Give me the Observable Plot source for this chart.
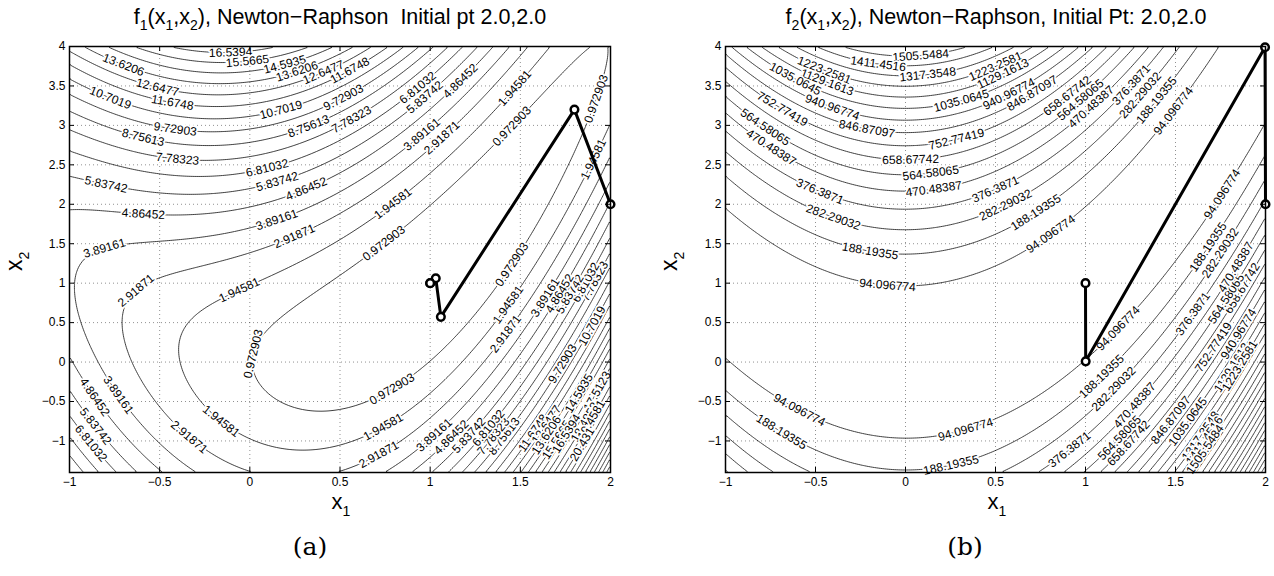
<!DOCTYPE html>
<html>
<head>
<meta charset="utf-8">
<script src="https://cdn.jsdelivr.net/npm/d3@7"></script>
<script src="https://cdn.jsdelivr.net/npm/@observablehq/plot@0.6"></script>
<style>
  body { margin: 0; background: white; }
  #wrap { position: relative; width: 1274px; height: 576px; overflow: hidden; background: white; font-family: "Liberation Sans", Arial, sans-serif; color: black; }
  .panel { position: absolute; top: 0; }
  .ttl { position: absolute; top: 7px; font-size: 21.5px; line-height: 1; white-space: pre; transform: translateX(-50%); }
  .sb { font-size: 14px; position: relative; top: 6px; }
  .xl { position: absolute; top: 493px; font-size: 22px; line-height: 0.8; transform: translateX(-50%); white-space: pre; }
  .xl .sb { font-size: 14px; top: 7px; }
  .yl { position: absolute; font-size: 23px; line-height: 1; white-space: pre; transform-origin: 0 0; }
  .yl .sb { font-size: 14px; top: 7px; }
  .cap { position: absolute; top: 532px; font-family: "DejaVu Serif", serif; font-size: 25px; line-height: 1.2; transform: translateX(-50%); }
</style>
</head>
<body>
<div id="wrap">
  <div id="pa" class="panel" style="left:0px"></div>
  <div id="pb" class="panel" style="left:637px"></div>
  <div class="ttl" style="left:340px">f<span class="sb">1</span>(x<span class="sb">1</span>,x<span class="sb">2</span>), Newton−Raphson  Initial pt 2.0,2.0</div>
  <div class="ttl" style="left:996px">f<span class="sb">2</span>(x<span class="sb">1</span>,x<span class="sb">2</span>), Newton−Raphson, Initial Pt: 2.0,2.0</div>
  <div class="xl" style="left:341px">x<span class="sb">1</span></div>
  <div class="xl" style="left:997px">x<span class="sb">1</span></div>
  <div class="yl" style="left:3px;top:271px;transform:rotate(-90deg)">x<span class="sb">2</span></div>
  <div class="yl" style="left:658px;top:271px;transform:rotate(-90deg)">x<span class="sb">2</span></div>
  <div class="cap" style="left:310px">(a)</div>
  <div class="cap" style="left:965px">(b)</div>
</div>
<script>
// ---------- data ----------
const xTicks = [-1, -0.5, 0, 0.5, 1, 1.5, 2];
const yTicks = [-1, -0.5, 0, 0.5, 1, 1.5, 2, 2.5, 3, 3.5, 4];
const xDomain = [-1, 2];
const yDomain = [-1.4, 4];

const levelsA = [0.972903, 1.94581, 2.91871, 3.89161, 4.86452, 5.83742, 6.81032, 7.78323, 8.75613, 9.72903,
  10.7019, 11.6748, 12.6477, 13.6206, 14.5935, 15.5665, 16.5394, 17.5123, 18.4852, 19.4581,
  20.431, 21.4039, 22.3768, 23.3497, 24.3226, 25.2955, 26.2684, 27.2413, 28.2142, 29.1871];
const levelsB = [94.096774, 188.19355, 282.29032, 376.3871, 470.48387, 564.58065, 658.67742, 752.77419, 846.87097, 940.96774,
  1035.0645, 1129.1613, 1223.2581, 1317.3548, 1411.4516, 1505.5484, 1599.6452, 1693.7419, 1787.8387, 1881.9355,
  1976.0323, 2070.129, 2164.2258, 2258.3226, 2352.4194, 2446.5161, 2540.6129, 2634.7097, 2728.8065, 2822.9032];

// Newton-Raphson iterates (x1, x2)
const pathAx1 = [2.0, 1.8, 1.0593, 1.0310, 1.0001, 1.0];
const pathAx2 = [2.0, 3.2, 0.5733, 1.0622, 0.9992, 1.0];
const pathBx1 = [2.0, 1.9975, 1.0010, 1.0];
const pathBx2 = [2.0, 3.9900, 0.0090, 1.0];

// contour label anchors: [level number, x1, x2]
const labelsA = [
  [17,-0.107,3.94],[16,-0.013,3.81],[15,0.198,3.73],[14,0.259,3.70],[14,-0.70,3.77],
  [13,-0.512,3.48],[13,0.392,3.76],[12,-0.429,3.29],[12,0.547,3.73],[12,1.57,-0.90],
  [11,-0.773,3.35],[11,0.170,3.22],[11,1.905,0.45],
  [10,-0.412,2.98],[10,0.520,3.35],[10,1.72,0.0],
  [9,-0.590,2.86],[9,0.32,3.02],[9,1.42,-0.96],
  [8,-0.401,2.57],[8,0.558,3.10],[8,1.90,1.04],[8,1.35,-0.94],
  [7,0.098,2.44],[7,0.93,3.48],[7,1.84,1.04],[7,1.32,-0.83],[7,-0.88,-1.03],
  [6,-0.80,2.22],[6,0.154,2.27],[6,0.958,3.39],[6,1.76,0.88],[6,1.21,-0.92],[6,-0.87,-0.84],
  [5,0.309,2.22],[5,1.152,3.60],[5,-0.59,1.89],[5,1.71,0.88],[5,1.12,-0.96],[5,-0.87,-0.46],
  [4,-0.80,1.40],[4,0.153,1.78],[4,0.963,2.86],[4,1.63,0.83],[4,1.02,-0.92],[4,-0.73,-0.42],
  [3,-0.62,0.88],[3,0.244,1.61],[3,1.074,2.82],[3,1.41,0.37],[3,0.71,-1.15],[3,-0.34,-0.96],
  [2,-0.06,0.92],[2,1.465,3.48],[2,0.79,2.02],[2,1.906,2.57],[2,1.43,0.73],[2,0.735,-0.80],[2,-0.152,-0.73],
  [1,1.457,2.98],[1,0.742,1.51],[1,0.048,0.09],[1,1.457,1.23],[1,1.93,3.33],[1,0.78,-0.31],
  [13,1.63,-0.77],[14,1.66,-0.95],[15,1.82,-0.39],[16,1.71,-1.0],[17,1.75,-0.9],[18,1.91,-0.35],
  [19,1.85,-0.75],[20,1.87,-0.70],[21,1.87,-1.08]
];
const labelsB = [
  [16,0.083,3.92],[15,-0.15,3.81],[14,0.122,3.67],
  [13,-0.455,3.68],[13,0.49,3.80],[12,-0.43,3.58],[12,0.53,3.71],
  [11,-0.61,3.60],[11,0.306,3.35],[11,1.57,-0.76],
  [10,-0.405,3.24],[10,0.57,3.42],[10,1.84,0.37],
  [9,-0.21,3.01],[9,0.70,3.42],[9,1.46,-0.71],
  [8,-0.68,3.22],[8,0.28,2.85],[8,1.71,0.19],
  [7,0.028,2.59],[7,0.90,3.37],[7,1.86,0.95],[7,1.23,-1.01],
  [6,-0.77,3.01],[6,0.139,2.41],[6,0.97,3.33],[6,1.79,0.79],[6,1.17,-0.92],
  [5,-0.73,2.78],[5,0.156,2.21],[5,1.03,3.24],[5,1.83,1.21],[5,1.26,-0.52],
  [4,-0.47,2.19],[4,0.5,2.19],[4,1.25,3.52],[4,1.59,0.62],[4,0.89,-1.05],
  [3,-0.40,1.84],[3,0.556,1.99],[3,1.31,3.37],[3,1.75,1.38],[3,1.16,-0.35],
  [2,-0.195,1.42],[2,0.72,1.91],[2,1.41,3.29],[2,1.68,1.46],[2,1.08,-0.16],[2,0.25,-1.27],[2,-0.69,-0.89],
  [1,-0.10,0.98],[1,0.81,1.61],[1,1.48,3.20],[1,1.72,2.19],[1,1.18,0.43],[1,0.33,-0.82],[1,-0.59,-0.61],
  [12,1.80,-0.05],[13,1.86,-0.05],[14,1.63,-0.92],[15,1.67,-1.01],[16,1.66,-1.1]
];

// ---------- functions being contoured ----------
const fA = (x, y) => (y - x * x) ** 2 + (1 - x) ** 2;
const gA = (x, y) => [-4 * x * (y - x * x) - 2 * (1 - x), 2 * (y - x * x)];
const fB = (x, y) => 100 * (y - x * x) ** 2 + (1 - x) ** 2;
const gB = (x, y) => [-400 * x * (y - x * x) - 2 * (1 - x), 200 * (y - x * x)];

const fmt = d => String(d).replace("-", "\u2212");

function makeLabels(list, levels, f, g, sx, sy) {
  return list.map(([k, x, y]) => {
    const L = levels[k - 1];
    for (let i = 0; i < 12; i++) {
      const v = f(x, y) - L;
      const [gx, gy] = g(x, y);
      const d = gx * gx / (sx * sx) + gy * gy / (sy * sy);
      let dx = -v * gx / (sx * sx) / d, dy = -v * gy / (sy * sy) / d;
      const pix = Math.hypot(dx * sx, dy * sy);
      if (pix > 6) { dx *= 6 / pix; dy *= 6 / pix; }
      x += dx; y += dy;
    }
    const [gx, gy] = g(x, y);
    let a = Math.atan2(gx / sx, gy / sy) * 180 / Math.PI;
    if (a > 90) a -= 180;
    if (a < -90) a += 180;
    return {x, y, r: a, t: String(L)};
  });
}

function panel(levels, f, g, labels, px, py, mL, mR) {
  const W = 637, H = 576, mT = 46, mB = 104;
  const iw = W - mL - mR, ih = H - mT - mB;
  const sx = iw / (xDomain[1] - xDomain[0]);
  const sy = ih / (yDomain[1] - yDomain[0]);
  const lab = makeLabels(labels, levels, f, g, sx, sy);
  const path = px.map((v, i) => ({x: v, y: py[i]}));
  const dots = {stroke: "#000", strokeOpacity: 0.55, strokeDasharray: "1,3", strokeWidth: 0.8};
  return Plot.plot({
    width: W, height: H, marginLeft: mL, marginRight: mR, marginTop: mT, marginBottom: mB,
    x: {domain: xDomain, label: null},
    y: {domain: yDomain, label: null},
    style: {fontFamily: "'Liberation Sans', Arial, sans-serif", fontSize: "12px", color: "black", background: "white", overflow: "visible"},
    marks: [
      Plot.gridX(xTicks, dots),
      Plot.gridY(yTicks, dots),
      Plot.contour({x1: xDomain[0], x2: xDomain[1], y1: yDomain[0], y2: yDomain[1],
        value: f, thresholds: levels, stroke: "black", fill: "none", strokeWidth: 0.75}),
      Plot.text(lab, {x: "x", y: "y", text: "t", rotate: "r", fontSize: 12, fill: "black",
        stroke: "white", strokeWidth: 3.5, textAnchor: "middle", lineAnchor: "middle"}),
      Plot.line(path, {x: "x", y: "y", stroke: "black", strokeWidth: 3, curve: "linear"}),
      Plot.dot(path, {x: "x", y: "y", r: 3.8, stroke: "black", strokeWidth: 2.5, fill: "white"}),
      Plot.axisX(xTicks, {tickSize: 0, tickPadding: 5, tickFormat: fmt, label: null, fontSize: 12}),
      Plot.axisY(yTicks, {tickSize: 0, tickPadding: 4, tickFormat: fmt, label: null, fontSize: 12}),
      Plot.ruleX(xTicks, {stroke: "black", insetTop: ih - 5}),
      Plot.ruleX(xTicks, {stroke: "black", insetBottom: ih - 5}),
      Plot.ruleY(yTicks, {stroke: "black", insetRight: iw - 5}),
      Plot.ruleY(yTicks, {stroke: "black", insetLeft: iw - 5}),
      Plot.frame({stroke: "black", strokeWidth: 1.5})
    ]
  });
}

document.getElementById("pa").append(panel(levelsA, fA, gA, labelsA, pathAx1, pathAx2, 69, 27));
document.getElementById("pb").append(panel(levelsB, fB, gB, labelsB, pathBx1, pathBx2, 88, 9));
</script>
</body>
</html>
